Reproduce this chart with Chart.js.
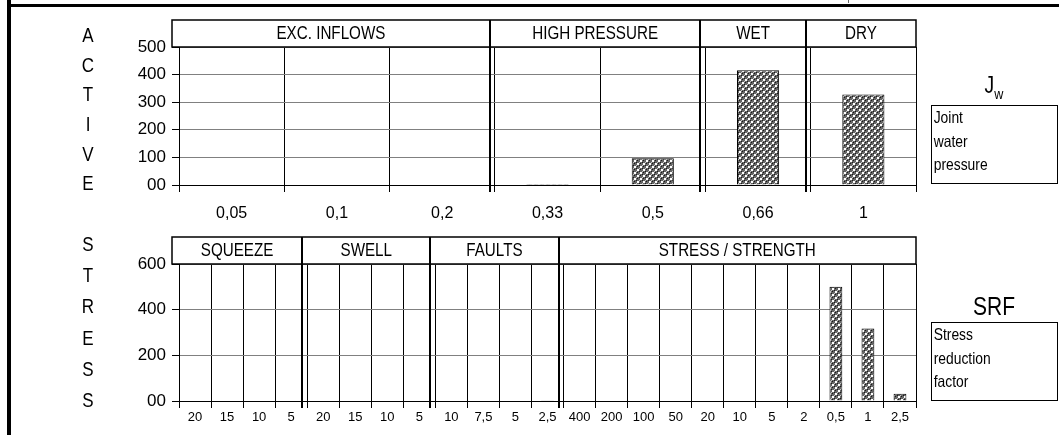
<!DOCTYPE html>
<html>
<head>
<meta charset="utf-8">
<script src="https://cdn.jsdelivr.net/npm/chart.js@4.4.1/dist/chart.umd.min.js"></script>
<style>
	body { margin: 0; background: #fff; }
	#page { position: relative; width: 1059px; height: 435px; overflow: hidden; font-family: "Liberation Sans", Arial, sans-serif; color: #000; }
	canvas { position: absolute; left: 0; }
	.frameTop { position: absolute; left: 7px; top: 4px; width: 1052px; height: 3px; background: #000; }
	.frameLeft { position: absolute; left: 7px; top: 0; width: 4px; height: 435px; background: #000; }
	.tick { position: absolute; left: 848px; top: 0; width: 1px; height: 3px; background: #666; }
	.letter { position: absolute; width: 30px; margin-left: -15px; text-align: center; font-size: 20px; line-height: 22px; margin-top: -11px; transform: scaleX(0.85); }
	.infoBox { position: absolute; left: 931px; width: 125px; height: 77px; border: 1px solid #000; }
	.infoBox div { transform: scaleX(0.84); transform-origin: left; font-size: 16.5px; line-height: 23.5px; padding-left: 2px; white-space: nowrap; }
	.infoTitle { position: absolute; text-align: center; width: 126px; left: 931px; transform: scaleX(0.84); }
</style>
</head>
<body>
<div id="page">
	<div class="frameTop"></div>
	<div class="frameLeft"></div>
	<div class="tick"></div>
	<canvas id="waterChart" width="1059" height="230" style="top:0"></canvas>
	<canvas id="stressChart" width="1059" height="205" style="top:230px"></canvas>
	<div class="infoTitle" style="top:72px;font-size:23px;">J<sub style="font-size:15px;">w</sub></div>
	<div class="infoBox" style="top:105px;"><div>Joint<br>water<br>pressure</div></div>
	<div class="infoTitle" style="top:292px;font-size:25px;">SRF</div>
	<div class="infoBox" style="top:322px;"><div>Stress<br>reduction<br>factor</div></div>
</div>
<script>
// Jw chart (top)
const waterLabels = ["0,05", "0,1", "0,2", "0,33", "0,5", "0,66", "1"];
const waterValues = [0, 0, 0, 4, 97, 416, 328];
const waterGroups = ["EXC. INFLOWS", "HIGH PRESSURE", "WET", "DRY"];
const waterGroupSizes = [3, 2, 1, 1];

// SRF chart (bottom)
const stressLabels = ["20", "15", "10", "5", "20", "15", "10", "5", "10", "7,5", "5", "2,5",
	"400", "200", "100", "50", "20", "10", "5", "2", "0,5", "1", "2,5"];
const stressValues = [0, 0, 0, 0, 0, 0, 0, 0, 0, 0, 0, 3,
	0, 0, 0, 0, 0, 0, 0, 0, 500, 317, 32];
const stressGroups = ["SQUEEZE", "SWELL", "FAULTS", "STRESS / STRENGTH"];
const stressGroupSizes = [4, 4, 4, 11];

const sideLetters = [
	{ text: "ACTIVE", ys: [35, 65, 94, 124, 154, 183] },
	{ text: "STRESS", ys: [244, 275, 306, 338, 369, 400] }
];

const page = document.getElementById("page");
sideLetters.forEach(word => {
	word.text.split("").forEach((ch, i) => {
		const el = document.createElement("div");
		el.className = "letter";
		el.style.left = "88px";
		el.style.top = word.ys[i] + "px";
		el.textContent = ch;
		page.appendChild(el);
	});
});

/*crosshatch fill like the old excel pattern*/
function makePattern() {
	const tile = document.createElement("canvas");
	tile.width = 6;
	tile.height = 6;
	const c = tile.getContext("2d");
	c.fillStyle = "#666";
	c.fillRect(0, 0, 6, 6);
	c.fillStyle = "#1a1a1a";
	c.fillRect(0, 0, 1, 1);
	c.fillRect(3, 3, 1, 1);
	c.fillRect(1, 4, 1, 1);
	c.fillRect(4, 1, 1, 1);
	c.fillStyle = "#fff";
	c.fillRect(1, 1, 2, 2);
	c.fillRect(4, 4, 2, 2);
	c.fillStyle = "#c8c8c8";
	c.fillRect(0, 3, 1, 1);
	c.fillRect(3, 0, 1, 1);
	return tile.getContext("2d").createPattern(tile, "repeat");
}

const baseFont = '"Liberation Sans", Arial, sans-serif';

const groupBoxes = {
	id: "groupBoxes",
	afterDraw(chart, args, opts) {
		const ctx = chart.ctx;
		const area = chart.chartArea;
		const n = chart.data.labels.length;
		const w = (area.right - area.left) / n;
		const top = area.top - 27;
		let edges = [area.left - 7];
		let k = 0;
		opts.sizes.forEach((s, i) => {
			k += s;
			edges.push(i === opts.sizes.length - 1 ? area.right : area.left + k * w - 5);
		});
		ctx.save();
		ctx.strokeStyle = "#000";
		ctx.fillStyle = "#fff";
		ctx.fillRect(edges[0], top, edges[edges.length - 1] - edges[0], 27);
		ctx.lineWidth = 1.5;
		ctx.strokeRect(edges[0], top, edges[edges.length - 1] - edges[0], 27);
		ctx.lineWidth = 2;
		for (let i = 1; i < edges.length - 1; i++) {
			ctx.beginPath();
			ctx.moveTo(Math.round(edges[i]), top);
			ctx.lineTo(Math.round(edges[i]), area.bottom + 7);
			ctx.stroke();
		}
		ctx.fillStyle = "#000";
		ctx.font = "19px " + baseFont;
		ctx.textAlign = "center";
		ctx.textBaseline = "middle";
		for (let i = 0; i < opts.names.length; i++) {
			/*squeeze text sideways to look like arial narrow*/
			ctx.save();
			ctx.translate((edges[i] + edges[i + 1]) / 2, top + 14);
			ctx.scale(0.8, 1);
			ctx.fillText(opts.names[i], 0, 0);
			ctx.restore();
		}
		ctx.restore();
	}
};

function buildChart(id, labels, values, groups, sizes, yMax, yStep, padTop, xHeight, xFont, xPad) {
	const ctx = document.getElementById(id).getContext("2d");
	return new Chart(ctx, {
		type: "bar",
		data: {
			labels: labels,
			datasets: [{
				data: values,
				backgroundColor: makePattern(),
				borderColor: "#000",
				borderWidth: 1,
				barPercentage: 0.4,
				categoryPercentage: 1
			}]
		},
		options: {
			responsive: false,
			animation: false,
			layout: { padding: { top: padTop, right: 143, left: 0, bottom: 0 } },
			plugins: {
				legend: { display: false },
				tooltip: { enabled: false },
				groupBoxes: { names: groups, sizes: sizes }
			},
			scales: {
				x: {
					grid: { color: "#000", tickLength: 7, offset: true },
					border: { color: "#000" },
					ticks: {
						color: "#000",
						autoSkip: false,
						maxRotation: 0,
						padding: xPad,
						font: { family: baseFont, size: xFont }
					},
					afterFit(scale) { scale.height = xHeight; }
				},
				y: {
					min: 0,
					max: yMax,
					grid: { color: "#808080", tickColor: "#000", tickLength: 7 },
					border: { color: "#000" },
					ticks: {
						stepSize: yStep,
						color: "#000",
						padding: 6,
						font: { family: baseFont, size: 17 },
						callback: v => (v === 0 ? "00" : v)
					},
					afterFit(scale) { scale.width = 179; }
				}
			}
		},
		plugins: [groupBoxes]
	});
}

buildChart("waterChart", waterLabels, waterValues, waterGroups, waterGroupSizes, 500, 100, 47, 45, 16, 12);
buildChart("stressChart", stressLabels, stressValues, stressGroups, stressGroupSizes, 600, 200, 34, 34, 13, 2);
</script>
</body>
</html>
